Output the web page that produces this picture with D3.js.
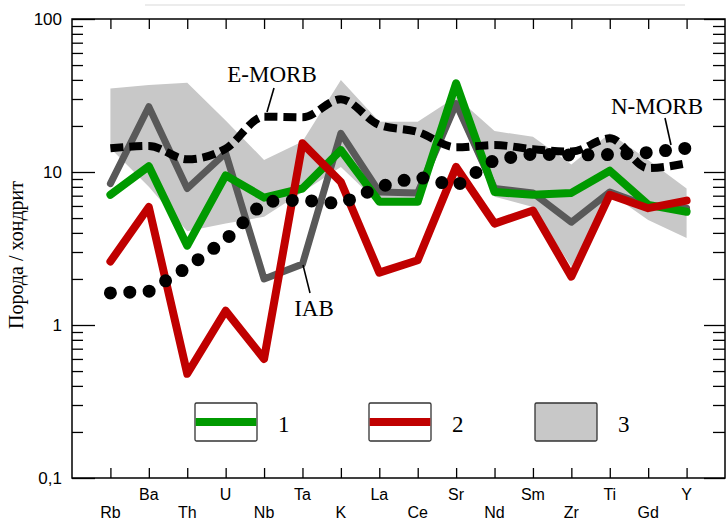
<!DOCTYPE html>
<html>
<head>
<meta charset="utf-8">
<script src="https://cdn.jsdelivr.net/npm/d3@7/dist/d3.min.js"></script>
<style>
  html, body { margin: 0; padding: 0; background: #fff; }
  svg { display: block; }
</style>
</head>
<body>
<svg id="chart" width="728" height="520"></svg>
<script>
// Elements in spider-diagram order
const elements = ["Rb","Ba","Th","U","Nb","Ta","K","La","Ce","Sr","Nd","Sm","Zr","Ti","Gd","Y"];

// Chondrite-normalised concentrations
const group1 = [7.1, 10.9, 3.3, 9.5, 6.8, 7.8, 13.9, 6.4, 6.4, 38, 7.4, 7.1, 7.3, 10.2, 6.1, 5.5];
const group2 = [2.6, 5.9, 0.48, 1.24, 0.6, 15.4, 8.6, 2.2, 2.65, 10.8, 4.6, 5.6, 2.07, 7.1, 5.8, 6.5];
const iab    = [8.4, 26.7, 7.8, 13.3, 2.0, 2.5, 17.9, 7.4, 7.3, 28, 7.8, 7.3, 4.7, 7.4, 6.0, 5.8];
const eMorb  = [14.3, 14.8, 12.1, 14.2, 23, 22.8, 29.9, 20.3, 18.3, 14.5, 15.0, 14.1, 13.6, 16.6, 10.6, 11.4];
const nMorb  = [1.62, 1.66, 2.38, 3.6, 6.4, 6.56, 6.2, 8.0, 9.3, 8.1, 12.0, 13.1, 12.9, 13.0, 13.4, 14.3];

// Field 3: envelope (upper and lower bounds)
const field3Upper = [35.2, 37, 38.3, 21.7, 12.0, 15.8, 39.9, 21.3, 21.3, 31, 18.5, 17.0, 11.2, 17.9, 12.0, 7.8];
const field3Lower = [14.3, 8.0, 4.1, 4.6, 5.1, 7.4, 10.8, 6.2, 6.5, 25, 6.9, 5.9, 2.4, 7.3, 4.85, 3.7];

const yTickValues = [0.1, 1, 10, 100];
const yTickLabels = ["0,1", "1", "10", "100"];
const legendLabels = ["1", "2", "3"];

const plotLeft = 72, plotRight = 725, plotTop = 19, plotBottom = 478;

const svg = d3.select("#chart");

const x = d3.scalePoint().domain(elements).range([plotLeft, plotRight]).padding(1);
const y = d3.scaleLog().domain([0.1, 100]).range([plotBottom, plotTop]);

// faint rule above the plot
svg.append("line")
  .attr("x1", 145).attr("x2", 685).attr("y1", 5).attr("y2", 5)
  .attr("stroke", "#ececec").attr("stroke-width", 2);

// shaded field
const fieldData = elements.map((e, i) => ({ e, lo: field3Lower[i], hi: field3Upper[i] }));
svg.append("path")
  .datum(fieldData)
  .attr("fill", "#c8c8c8")
  .attr("d", d3.area().x(d => x(d.e)).y0(d => y(d.lo)).y1(d => y(d.hi)));

function series(vals) { return elements.map((e, i) => ({ e, v: vals[i] })); }
const lineLinear = d3.line().x(d => x(d.e)).y(d => y(d.v));
const lineSmooth = d3.line().x(d => x(d.e)).y(d => y(d.v)).curve(d3.curveMonotoneX);

// IAB
svg.append("path").datum(series(iab))
  .attr("fill", "none").attr("stroke", "#595959").attr("stroke-width", 7)
  .attr("stroke-linejoin", "round").attr("stroke-linecap", "round")
  .attr("d", lineLinear);

// group 1 (green)
svg.append("path").datum(series(group1))
  .attr("fill", "none").attr("stroke", "#009a00").attr("stroke-width", 8)
  .attr("stroke-linejoin", "round").attr("stroke-linecap", "round")
  .attr("d", lineLinear);

// group 2 (red)
svg.append("path").datum(series(group2))
  .attr("fill", "none").attr("stroke", "#c00000").attr("stroke-width", 8)
  .attr("stroke-linejoin", "round").attr("stroke-linecap", "round")
  .attr("d", lineLinear);

// E-MORB dashed
svg.append("path").datum(series(eMorb))
  .attr("fill", "none").attr("stroke", "#000").attr("stroke-width", 8)
  .attr("stroke-dasharray", "13 6")
  .attr("d", lineSmooth);

// N-MORB dotted
svg.append("path").datum(series(nMorb))
  .attr("fill", "none").attr("stroke", "#000").attr("stroke-width", 13)
  .attr("stroke-linecap", "round").attr("stroke-dasharray", "0 19.4")
  .attr("d", lineLinear);

// frame
svg.append("rect")
  .attr("x", plotLeft).attr("y", plotTop)
  .attr("width", plotRight - plotLeft).attr("height", plotBottom - plotTop)
  .attr("fill", "none").attr("stroke", "#000").attr("stroke-width", 1.5);

// x ticks (top and bottom, inward)
const xAxisB = d3.axisBottom(x).tickSizeInner(-10).tickSizeOuter(0).tickFormat("");
const gxb = svg.append("g").attr("transform", `translate(0,${plotBottom})`).call(xAxisB);
const xAxisT = d3.axisTop(x).tickSizeInner(-10).tickSizeOuter(0).tickFormat("");
const gxt = svg.append("g").attr("transform", `translate(0,${plotTop})`).call(xAxisT);
[gxb, gxt].forEach(g => {
  g.select(".domain").remove();
  g.selectAll("line").attr("stroke", "#000").attr("stroke-width", 1.3);
});

// x labels in two staggered rows
svg.append("g").selectAll("text").data(elements).join("text")
  .attr("x", d => x(d))
  .attr("y", (d, i) => i % 2 === 1 ? 500 : 518)
  .attr("text-anchor", "middle")
  .attr("font-family", "Liberation Sans, Arial, sans-serif")
  .attr("font-size", 16)
  .text(d => d);

// y ticks: minor and major, inward on both sides
const minorVals = [];
for (let dec = 0.1; dec < 100; dec *= 10) {
  for (let k = 2; k <= 9; k++) minorVals.push(+(dec * k).toPrecision(3));
}
const yAxisL = d3.axisLeft(y).tickValues(minorVals).tickSizeInner(-11).tickSizeOuter(0).tickFormat("");
const yAxisLMaj = d3.axisLeft(y).tickValues(yTickValues).tickSizeInner(-23).tickSizeOuter(0).tickFormat("");
const yAxisR = d3.axisRight(y).tickValues(minorVals).tickSizeInner(-12).tickSizeOuter(0).tickFormat("");
const yAxisRMaj = d3.axisRight(y).tickValues(yTickValues).tickSizeInner(-21).tickSizeOuter(0).tickFormat("");
[[yAxisL, plotLeft], [yAxisLMaj, plotLeft], [yAxisR, plotRight], [yAxisRMaj, plotRight]].forEach(([ax, xx]) => {
  const g = svg.append("g").attr("transform", `translate(${xx},0)`).call(ax);
  g.select(".domain").remove();
  g.selectAll("line").attr("stroke", "#000").attr("stroke-width", 1.3);
});

// y labels
svg.append("g").selectAll("text").data(yTickValues).join("text")
  .attr("x", 62).attr("y", d => y(d))
  .attr("dy", "0.36em")
  .attr("text-anchor", "end")
  .attr("font-family", "Liberation Sans, Arial, sans-serif")
  .attr("font-size", 17)
  .text((d, i) => yTickLabels[i]);

// y title
svg.append("text")
  .attr("transform", "translate(23,255) rotate(-90)")
  .attr("text-anchor", "middle")
  .attr("font-family", "Liberation Serif, Times New Roman, serif")
  .attr("font-size", 20)
  .text("Порода / хондрит");

// annotations with leader lines
const serif = "Liberation Serif, Times New Roman, serif";
const notes = [
  { text: "E-MORB", tx: 272, ty: 82, x1: 274, y1: 88, x2: 267, y2: 112 },
  { text: "N-MORB", tx: 657, ty: 114, x1: 665, y1: 118, x2: 671, y2: 145 },
  { text: "IAB", tx: 314, ty: 316, x1: 303, y1: 265, x2: 310, y2: 293 }
];
notes.forEach(n => {
  svg.append("line").attr("x1", n.x1).attr("y1", n.y1).attr("x2", n.x2).attr("y2", n.y2)
    .attr("stroke", "#000").attr("stroke-width", 1.6);
  svg.append("text").attr("x", n.tx).attr("y", n.ty)
    .attr("text-anchor", "middle").attr("font-family", serif).attr("font-size", 23)
    .text(n.text);
});

// legend
const legendItems = [
  { box: 195, color: "#009a00", type: "line" },
  { box: 369, color: "#c00000", type: "line" },
  { box: 535, color: "#c8c8c8", type: "fill" }
];
const bw = 62, bh = 38, by = 403;
legendItems.forEach((it, i) => {
  const g = svg.append("g");
  g.append("rect").attr("x", it.box).attr("y", by).attr("width", bw).attr("height", bh)
    .attr("rx", 1.5)
    .attr("fill", it.type === "fill" ? it.color : "#fff")
    .attr("stroke", "#333").attr("stroke-width", 1.3);
  if (it.type === "line") {
    g.append("line").attr("x1", it.box + 0.7).attr("x2", it.box + bw - 0.7)
      .attr("y1", by + bh / 2).attr("y2", by + bh / 2)
      .attr("stroke", it.color).attr("stroke-width", 8);
  }
  g.append("text").attr("x", it.box + bw + 21).attr("y", 432)
    .attr("font-family", serif).attr("font-size", 23)
    .text(legendLabels[i]);
});
</script>
</body>
</html>
